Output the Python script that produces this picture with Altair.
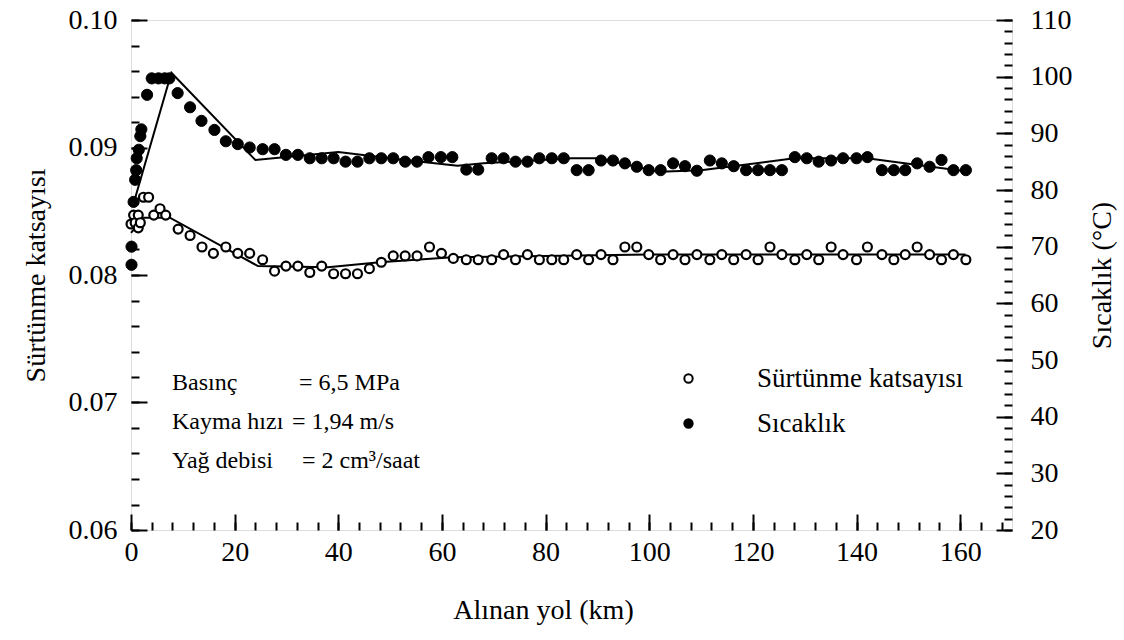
import altair as alt
import pandas as pd

# ---------------- data ----------------
fric_km = [0.0, 0.5, 0.8, 1.4, 1.4, 1.8, 2.4, 3.4, 4.4, 5.6, 6.7, 9.1, 11.4, 13.7, 15.9, 18.3,
           20.6, 22.9, 25.4, 27.7, 29.9, 32.2, 34.5, 36.8, 39.1, 41.4, 43.7, 46.0, 48.3, 50.6,
           52.9, 55.2, 57.6, 59.9, 62.2, 64.7, 67.0, 69.6, 71.9, 74.2, 76.5, 78.8, 81.2, 83.5,
           86.0, 88.3, 90.7, 93.0, 95.3, 97.6, 99.9, 102.2, 104.6, 106.9, 109.2, 111.7, 114.0,
           116.3, 118.7, 121.0, 123.3, 125.6, 128.1, 130.4, 132.7, 135.1, 137.4, 140.0, 142.1,
           144.9, 147.2, 149.4, 151.7, 154.1, 156.4, 158.7, 161.1]
fric_val = [0.0840, 0.0847, 0.0841, 0.0847, 0.0837, 0.0841, 0.0861, 0.0861, 0.0847, 0.0852,
            0.0847, 0.0836, 0.0831, 0.0822, 0.0817, 0.0822, 0.0817, 0.0817, 0.0812, 0.0803,
            0.0807, 0.0807, 0.0802, 0.0807, 0.0801, 0.0801, 0.0801, 0.0805, 0.0810, 0.0815,
            0.0815, 0.0815, 0.0822, 0.0817, 0.0813, 0.0812, 0.0812, 0.0812, 0.0816, 0.0812,
            0.0816, 0.0812, 0.0812, 0.0812, 0.0816, 0.0812, 0.0816, 0.0812, 0.0822, 0.0822,
            0.0816, 0.0812, 0.0816, 0.0812, 0.0816, 0.0812, 0.0816, 0.0812, 0.0816, 0.0812,
            0.0822, 0.0816, 0.0812, 0.0816, 0.0812, 0.0822, 0.0816, 0.0812, 0.0822, 0.0816,
            0.0812, 0.0816, 0.0822, 0.0816, 0.0812, 0.0816, 0.0812]

temp_km = [0.1, 0.1, 0.5, 0.8, 1.0, 1.1, 1.5, 1.8, 2.0, 3.1, 4.0, 5.3, 6.5, 7.4, 9.0, 11.4,
           13.6, 16.1, 18.3, 20.6, 22.9, 25.4, 27.7, 29.9, 32.2, 34.5, 36.8, 39.1, 41.4, 43.7,
           46.0, 48.3, 50.6, 52.9, 55.2, 57.4, 59.8, 62.0, 64.7, 67.0, 69.6, 71.9, 74.2, 76.5,
           78.8, 81.2, 83.5, 86.0, 88.3, 90.7, 93.0, 95.3, 97.6, 99.9, 102.2, 104.6, 106.9,
           109.2, 111.7, 114.0, 116.3, 118.7, 121.0, 123.3, 125.6, 128.1, 130.4, 132.7, 135.1,
           137.4, 140.0, 142.1, 144.9, 147.2, 149.4, 151.7, 154.1, 156.4, 158.7, 161.1]
temp_val = [66.8, 70.0, 77.9, 81.8, 83.5, 85.6, 87.1, 89.5, 90.7, 96.8, 99.7, 99.7, 99.7, 99.7,
            97.1, 94.6, 92.2, 90.6, 88.6, 88.1, 87.5, 87.2, 87.2, 86.2, 86.2, 85.6, 85.6, 85.6,
            85.0, 85.0, 85.6, 85.6, 85.6, 85.0, 85.0, 85.8, 85.8, 85.8, 83.6, 83.6, 85.6, 85.6,
            85.0, 85.0, 85.6, 85.6, 85.6, 83.5, 83.5, 85.2, 85.2, 84.7, 84.1, 83.5, 83.5, 84.7,
            84.2, 83.4, 85.2, 84.7, 84.2, 83.5, 83.5, 83.5, 83.5, 85.8, 85.6, 85.0, 85.2, 85.6,
            85.6, 85.8, 83.5, 83.5, 83.5, 84.7, 84.1, 85.3, 83.5, 83.5]

fric_fit_km = [0.0, 2.5, 7.5, 24.5, 38.0, 48.0, 62.0, 100.0, 161.0]
fric_fit_val = [0.0833, 0.0845, 0.0845, 0.0807, 0.0806, 0.0810, 0.0814, 0.0816, 0.0816]

temp_fit_km = [0.3, 7.8, 24.0, 40.0, 52.0, 63.0, 68.0, 85.0, 90.0, 102.0, 110.0, 118.0,
               128.0, 142.0, 161.0]
temp_fit_val = [77.0, 100.7, 85.3, 86.7, 85.4, 84.3, 84.7, 85.6, 85.6, 83.2, 83.5, 84.4,
                85.6, 85.6, 83.3]

series_names = ["Sürtünme katsayısı", "Sıcaklık"]
x_major_vals = [0, 20, 40, 60, 80, 100, 120, 140, 160]
x_minor_vals = list(range(0, 170, 4))
f_major_vals = [0.06, 0.07, 0.08, 0.09, 0.10]
f_minor_vals = [round(0.06 + 0.002 * i, 3) for i in range(21)]
t_major_vals = list(range(20, 111, 10))
t_minor_vals = list(range(20, 111, 2))

note_labels = ["Basınç", "Kayma hızı", "Yağ debisi"]
note_values = ["= 6,5 MPa", "= 1,94 m/s", "= 2 cm³/saat"]

# ---------------- tables ----------------
fric_df = pd.DataFrame({"km": fric_km, "v": fric_val, "series": series_names[0]})
temp_df = pd.DataFrame({"km": temp_km, "v": temp_val, "series": series_names[1]})
fric_fit = pd.DataFrame({"km": fric_fit_km, "v": fric_fit_val})
temp_fit = pd.DataFrame({"km": temp_fit_km, "v": temp_fit_val})

FONT = "Liberation Serif"
FS = 28
MAJ = 16
MIN = 8
W, H = 881, 510

x_scale = alt.Scale(domain=[0, 170], nice=False, zero=False)
f_scale = alt.Scale(domain=[0.06, 0.10], nice=False, zero=False)
t_scale = alt.Scale(domain=[20, 110], nice=False, zero=False)

common = dict(domain=False, grid=False, tickColor="black", tickWidth=2,
              labelFont=FONT, labelFontSize=FS, labelColor="black",
              titleFont=FONT, titleFontSize=FS, titleFontWeight="normal",
              titleColor="black", labelFlush=False, labelOverlap=False)

x_major = alt.Axis(orient="bottom", values=x_major_vals, format="d", title="Alınan yol (km)",
                   tickSize=MAJ, offset=-MAJ, labelPadding=8, titlePadding=30,
                   titleX=412, **common)
x_minor = alt.Axis(orient="bottom", values=x_minor_vals, labels=False, title=None,
                   tickSize=MIN, offset=-MIN, **common)
f_major = alt.Axis(orient="left", values=f_major_vals, format=".2f",
                   title="Sürtünme katsayısı", tickSize=MAJ, offset=-MAJ,
                   labelPadding=14, titlePadding=18, **common)
f_minor = alt.Axis(orient="left", values=f_minor_vals, labels=False, title=None,
                   tickSize=MIN, offset=-MIN, **common)
t_major = alt.Axis(orient="right", values=t_major_vals, format="d", title="Sıcaklık (°C)",
                   titleAngle=270, tickSize=MAJ, offset=-MAJ, labelPadding=18,
                   titlePadding=44, **common)
t_minor = alt.Axis(orient="right", values=t_minor_vals, labels=False, title=None,
                   tickSize=MIN, offset=-MIN, **common)

fill_enc = alt.Fill("series:N", scale=alt.Scale(domain=series_names, range=["white", "black"]),
                    legend=alt.Legend(orient="none", legendX=544, legendY=345, title=None,
                                      symbolType="circle", symbolSize=70,
                                      symbolStrokeColor="black", symbolStrokeWidth=2,
                                      labelFont=FONT, labelFontSize=27, labelColor="black",
                                      labelOffset=55, rowPadding=17, padding=0,
                                      labelLimit=0, symbolOpacity=1))

fric_line = alt.Chart(fric_fit).mark_line(color="black", strokeWidth=2).encode(
    x=alt.X("km:Q", scale=x_scale, axis=x_major),
    y=alt.Y("v:Q", scale=f_scale, axis=f_major),
)
fric_pts = alt.Chart(fric_df).mark_point(shape="circle", filled=True, stroke="black",
                                         strokeWidth=2.2, size=80, opacity=1).encode(
    x=alt.X("km:Q", scale=x_scale, axis=x_minor),
    y=alt.Y("v:Q", scale=f_scale, axis=f_minor),
    fill=fill_enc,
)
temp_line = alt.Chart(temp_fit).mark_line(color="black", strokeWidth=2).encode(
    x=alt.X("km:Q", scale=x_scale, axis=None),
    y=alt.Y("v:Q", scale=t_scale, axis=t_major),
)
temp_pts = alt.Chart(temp_df).mark_point(shape="circle", filled=True, stroke="black",
                                         strokeWidth=1, size=125, opacity=1).encode(
    x=alt.X("km:Q", scale=x_scale, axis=None),
    y=alt.Y("v:Q", scale=t_scale, axis=t_minor),
    fill=fill_enc,
)

notes = []
row_y = [363, 402, 441]
eq_x = [168, 161, 171]
for i in range(3):
    notes.append(alt.Chart(pd.DataFrame({"t": [note_labels[i]]})).mark_text(
        font=FONT, fontSize=24, color="black", align="left", baseline="middle").encode(
        text="t:N", x=alt.value(41), y=alt.value(row_y[i])))
    notes.append(alt.Chart(pd.DataFrame({"t": [note_values[i]]})).mark_text(
        font=FONT, fontSize=24, color="black", align="left", baseline="middle").encode(
        text="t:N", x=alt.value(eq_x[i]), y=alt.value(row_y[i])))

chart = alt.layer(fric_line, fric_pts, temp_line, temp_pts, *notes).resolve_scale(
    x="independent", y="independent"
).properties(
    width=W, height=H,
    autosize=alt.AutoSizeParams(type="none"),
    padding={"left": 131, "top": 20, "right": 1124 - 131 - W, "bottom": 640 - 20 - H},
).configure_view(stroke="black", strokeWidth=2).configure(background="white")

chart.save("out.html", embed_options={"renderer": "svg", "actions": False})
